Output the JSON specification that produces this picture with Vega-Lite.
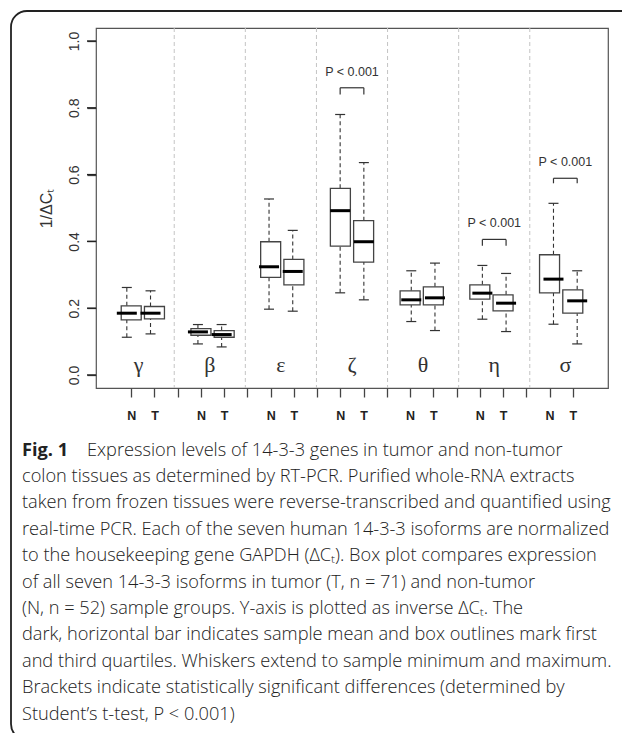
{
  "$schema": "https://vega.github.io/schema/vega-lite/v6.json",
  "width": 512,
  "height": 360,
  "autosize": {"type": "none"},
  "padding": {"left": 96, "top": 28, "right": 14, "bottom": 345},
  "background": "white",
  "config": {"view": {"stroke": "#555", "strokeWidth": 1.2}, "font": "Liberation Sans"},
  "datasets": {
    "boxes": [
      {"iso": "γ", "group": "N", "pos": 1, "min": 0.113, "q1": 0.165, "median": 0.185, "q3": 0.207, "max": 0.262},
      {"iso": "γ", "group": "T", "pos": 2, "min": 0.123, "q1": 0.168, "median": 0.185, "q3": 0.205, "max": 0.252},
      {"iso": "β", "group": "N", "pos": 4, "min": 0.093, "q1": 0.119, "median": 0.129, "q3": 0.139, "max": 0.151},
      {"iso": "β", "group": "T", "pos": 5, "min": 0.084, "q1": 0.113, "median": 0.121, "q3": 0.133, "max": 0.151},
      {"iso": "ε", "group": "N", "pos": 7, "min": 0.197, "q1": 0.292, "median": 0.324, "q3": 0.399, "max": 0.527},
      {"iso": "ε", "group": "T", "pos": 8, "min": 0.191, "q1": 0.270, "median": 0.310, "q3": 0.346, "max": 0.433},
      {"iso": "ζ", "group": "N", "pos": 10, "min": 0.246, "q1": 0.386, "median": 0.492, "q3": 0.559, "max": 0.780},
      {"iso": "ζ", "group": "T", "pos": 11, "min": 0.225, "q1": 0.338, "median": 0.399, "q3": 0.462, "max": 0.636},
      {"iso": "θ", "group": "N", "pos": 13, "min": 0.160, "q1": 0.210, "median": 0.225, "q3": 0.252, "max": 0.312},
      {"iso": "θ", "group": "T", "pos": 14, "min": 0.133, "q1": 0.210, "median": 0.231, "q3": 0.264, "max": 0.335},
      {"iso": "η", "group": "N", "pos": 16, "min": 0.167, "q1": 0.227, "median": 0.245, "q3": 0.270, "max": 0.328},
      {"iso": "η", "group": "T", "pos": 17, "min": 0.130, "q1": 0.192, "median": 0.215, "q3": 0.240, "max": 0.304},
      {"iso": "σ", "group": "N", "pos": 19, "min": 0.152, "q1": 0.246, "median": 0.287, "q3": 0.360, "max": 0.514},
      {"iso": "σ", "group": "T", "pos": 20, "min": 0.093, "q1": 0.185, "median": 0.222, "q3": 0.255, "max": 0.312}
    ],
    "seps": [{"pos": 3}, {"pos": 6}, {"pos": 9}, {"pos": 12}, {"pos": 15}, {"pos": 18}],
    "yticks": [{"v": 0}, {"v": 0.2}, {"v": 0.4}, {"v": 0.6}, {"v": 0.8}, {"v": 1.0}],
    "brackets": [
      {"iso": "ζ", "npos": 10, "tpos": 11, "mid": 10.5, "top": 0.860, "leg": 0.840, "ptext": 0.908, "label": "P < 0.001"},
      {"iso": "η", "npos": 16, "tpos": 17, "mid": 16.5, "top": 0.406, "leg": 0.387, "ptext": 0.456, "label": "P < 0.001"},
      {"iso": "σ", "npos": 19, "tpos": 20, "mid": 19.5, "top": 0.589, "leg": 0.574, "ptext": 0.639, "label": "P < 0.001"}
    ],
    "greek": [
      {"iso": "γ", "mid": 1.5}, {"iso": "β", "mid": 4.5}, {"iso": "ε", "mid": 7.5}, {"iso": "ζ", "mid": 10.5},
      {"iso": "θ", "mid": 13.5}, {"iso": "η", "mid": 16.5}, {"iso": "σ", "mid": 19.5}
    ],
    "caption": [
      {"line": 0, "part": "bold", "text": "Fig. 1"},
      {"line": 0, "part": "lead", "text": "Expression levels of 14-3-3 genes in tumor and non-tumor"},
      {"line": 1, "part": "body", "text": "colon tissues as determined by RT-PCR. Purified whole-RNA extracts"},
      {"line": 2, "part": "body", "text": "taken from frozen tissues were reverse-transcribed and quantified using"},
      {"line": 3, "part": "body", "text": "real-time PCR. Each of the seven human 14-3-3 isoforms are normalized"},
      {"line": 4, "part": "body", "text": "to the housekeeping gene GAPDH (ΔCₜ). Box plot compares expression"},
      {"line": 5, "part": "body", "text": "of all seven 14-3-3 isoforms in tumor (T, n = 71) and non-tumor"},
      {"line": 6, "part": "body", "text": "(N, n = 52) sample groups. Y-axis is plotted as inverse ΔCₜ. The"},
      {"line": 7, "part": "body", "text": "dark, horizontal bar indicates sample mean and box outlines mark first"},
      {"line": 8, "part": "body", "text": "and third quartiles. Whiskers extend to sample minimum and maximum."},
      {"line": 9, "part": "body", "text": "Brackets indicate statistically significant differences (determined by"},
      {"line": 10, "part": "body", "text": "Student’s t-test, P < 0.001)"}
    ],
    "frame": [{"x": 0, "x2": 1, "y": 0, "y2": 1}]
  },
  "layer": [
    {
      "data": {"name": "seps"},
      "mark": {"type": "rule", "color": "#c4c4c4", "strokeDash": [4, 3], "strokeWidth": 1},
      "encoding": {
        "x": {"field": "pos", "type": "quantitative", "scale": {"domain": [-0.3, 21.3], "nice": false, "zero": false}, "axis": null}
      }
    },
    {
      "data": {"name": "boxes"},
      "mark": {"type": "rule", "color": "#333", "strokeDash": [4, 3], "strokeWidth": 1.1},
      "encoding": {
        "x": {"field": "pos", "type": "quantitative", "scale": {"domain": [-0.3, 21.3], "nice": false, "zero": false}, "axis": null},
        "y": {"field": "q3", "type": "quantitative", "scale": {"domain": [-0.039, 1.039], "nice": false, "zero": false}, "axis": null},
        "y2": {"field": "max"}
      }
    },
    {
      "data": {"name": "boxes"},
      "mark": {"type": "rule", "color": "#333", "strokeDash": [4, 3], "strokeWidth": 1.1},
      "encoding": {
        "x": {"field": "pos", "type": "quantitative", "scale": {"domain": [-0.3, 21.3], "nice": false, "zero": false}, "axis": null},
        "y": {"field": "min", "type": "quantitative", "scale": {"domain": [-0.039, 1.039], "nice": false, "zero": false}, "axis": null},
        "y2": {"field": "q1"}
      }
    },
    {
      "data": {"name": "boxes"},
      "mark": {"type": "tick", "orient": "horizontal", "size": 10, "thickness": 1.2, "color": "#333", "opacity": 1},
      "encoding": {
        "x": {"field": "pos", "type": "quantitative", "scale": {"domain": [-0.3, 21.3], "nice": false, "zero": false}, "axis": null},
        "y": {"field": "max", "type": "quantitative", "scale": {"domain": [-0.039, 1.039], "nice": false, "zero": false}, "axis": null}
      }
    },
    {
      "data": {"name": "boxes"},
      "mark": {"type": "tick", "orient": "horizontal", "size": 10, "thickness": 1.2, "color": "#333", "opacity": 1},
      "encoding": {
        "x": {"field": "pos", "type": "quantitative", "scale": {"domain": [-0.3, 21.3], "nice": false, "zero": false}, "axis": null},
        "y": {"field": "min", "type": "quantitative", "scale": {"domain": [-0.039, 1.039], "nice": false, "zero": false}, "axis": null}
      }
    },
    {
      "data": {"name": "boxes"},
      "mark": {"type": "bar", "width": 20, "fill": "white", "stroke": "#444", "strokeWidth": 1.3},
      "encoding": {
        "x": {
          "field": "pos", "type": "quantitative",
          "scale": {"domain": [-0.3, 21.3], "nice": false, "zero": false},
          "axis": {
            "values": [1, 2, 3, 4, 5, 6, 7, 8, 9, 10, 11, 12, 13, 14, 15, 16, 17, 18, 19, 20],
            "labelExpr": "datum.value % 3 == 1 ? 'N' : (datum.value % 3 == 2 ? 'T' : '')",
            "title": null, "grid": false, "domain": false, "orient": "bottom",
            "tickSize": 9, "tickColor": "#444", "tickWidth": 1.3,
            "labelFont": "Liberation Sans", "labelFontWeight": "bold", "labelFontSize": 12.5,
            "labelColor": "#222", "labelPadding": 12, "labelOverlap": false, "labelFlush": false
          }
        },
        "y": {
          "field": "q1", "type": "quantitative",
          "scale": {"domain": [-0.039, 1.039], "nice": false, "zero": false},
          "axis": {
            "values": [0, 0.2, 0.4, 0.6, 0.8, 1.0], "format": ".1f", "orient": "left",
            "title": "1/ΔCₜ", "grid": false, "domain": false,
            "tickSize": 9, "tickColor": "#444", "tickWidth": 1.3,
            "labelAngle": -90, "labelAlign": "center", "labelBaseline": "bottom", "labelPadding": 6,
            "labelFont": "Liberation Sans", "labelFontSize": 14, "labelColor": "#333",
            "titleFont": "Liberation Sans", "titleFontSize": 16, "titleFontWeight": "normal",
            "titleColor": "#333", "titlePadding": 13
          }
        },
        "y2": {"field": "q3"}
      }
    },
    {
      "data": {"name": "boxes"},
      "mark": {"type": "tick", "orient": "horizontal", "size": 20, "thickness": 3, "color": "#000", "opacity": 1},
      "encoding": {
        "x": {"field": "pos", "type": "quantitative", "scale": {"domain": [-0.3, 21.3], "nice": false, "zero": false}, "axis": null},
        "y": {"field": "median", "type": "quantitative", "scale": {"domain": [-0.039, 1.039], "nice": false, "zero": false}, "axis": null}
      }
    },
    {
      "data": {"name": "brackets"},
      "mark": {"type": "rule", "color": "#333", "strokeWidth": 1.2},
      "encoding": {
        "x": {"field": "npos", "type": "quantitative", "scale": {"domain": [-0.3, 21.3], "nice": false, "zero": false}, "axis": null},
        "x2": {"field": "tpos"},
        "y": {"field": "top", "type": "quantitative", "scale": {"domain": [-0.039, 1.039], "nice": false, "zero": false}, "axis": null}
      }
    },
    {
      "data": {"name": "brackets"},
      "mark": {"type": "rule", "color": "#333", "strokeWidth": 1.2},
      "encoding": {
        "x": {"field": "npos", "type": "quantitative", "scale": {"domain": [-0.3, 21.3], "nice": false, "zero": false}, "axis": null},
        "y": {"field": "leg", "type": "quantitative", "scale": {"domain": [-0.039, 1.039], "nice": false, "zero": false}, "axis": null},
        "y2": {"field": "top"}
      }
    },
    {
      "data": {"name": "brackets"},
      "mark": {"type": "rule", "color": "#333", "strokeWidth": 1.2},
      "encoding": {
        "x": {"field": "tpos", "type": "quantitative", "scale": {"domain": [-0.3, 21.3], "nice": false, "zero": false}, "axis": null},
        "y": {"field": "leg", "type": "quantitative", "scale": {"domain": [-0.039, 1.039], "nice": false, "zero": false}, "axis": null},
        "y2": {"field": "top"}
      }
    },
    {
      "data": {"name": "brackets"},
      "mark": {"type": "text", "font": "Liberation Sans", "fontSize": 12.5, "color": "#333", "align": "center", "baseline": "middle"},
      "encoding": {
        "x": {"field": "mid", "type": "quantitative", "scale": {"domain": [-0.3, 21.3], "nice": false, "zero": false}, "axis": null},
        "y": {"field": "ptext", "type": "quantitative", "scale": {"domain": [-0.039, 1.039], "nice": false, "zero": false}, "axis": null},
        "text": {"field": "label"}
      }
    },
    {
      "data": {"name": "greek"},
      "mark": {"type": "text", "font": "Liberation Serif", "fontSize": 22, "color": "#333", "align": "center", "baseline": "middle"},
      "encoding": {
        "x": {"field": "mid", "type": "quantitative", "scale": {"domain": [-0.3, 21.3], "nice": false, "zero": false}, "axis": null},
        "y": {"datum": 0.03, "type": "quantitative", "scale": {"domain": [-0.039, 1.039], "nice": false, "zero": false}, "axis": null},
        "text": {"field": "iso"}
      }
    },
    {
      "data": {"name": "caption"},
      "transform": [{"filter": "datum.part == 'body'"}],
      "mark": {"type": "text", "font": "Open Sans", "fontSize": 18.2, "fontWeight": 300, "color": "#222", "align": "left", "baseline": "alphabetic"},
      "encoding": {
        "x": {"datum": 0, "type": "quantitative", "scale": {"domain": [0, 1], "range": [-74, 526], "nice": false, "zero": false}, "axis": null},
        "y": {"field": "line", "type": "quantitative", "scale": {"domain": [0, 10], "range": [427.5, 691.5], "nice": false, "zero": false}, "axis": null},
        "text": {"field": "text"}
      }
    },
    {
      "data": {"name": "caption"},
      "transform": [{"filter": "datum.part == 'bold'"}],
      "mark": {"type": "text", "font": "Open Sans", "fontSize": 18.2, "fontWeight": "bold", "color": "#222", "align": "left", "baseline": "alphabetic"},
      "encoding": {
        "x": {"datum": 0, "type": "quantitative", "scale": {"domain": [0, 1], "range": [-74, 526], "nice": false, "zero": false}, "axis": null},
        "y": {"field": "line", "type": "quantitative", "scale": {"domain": [0, 10], "range": [427.5, 691.5], "nice": false, "zero": false}, "axis": null},
        "text": {"field": "text"}
      }
    },
    {
      "data": {"name": "caption"},
      "transform": [{"filter": "datum.part == 'lead'"}],
      "mark": {"type": "text", "font": "Open Sans", "fontSize": 18.2, "fontWeight": 300, "color": "#222", "align": "left", "baseline": "alphabetic", "dx": 65},
      "encoding": {
        "x": {"datum": 0, "type": "quantitative", "scale": {"domain": [0, 1], "range": [-74, 526], "nice": false, "zero": false}, "axis": null},
        "y": {"field": "line", "type": "quantitative", "scale": {"domain": [0, 10], "range": [427.5, 691.5], "nice": false, "zero": false}, "axis": null},
        "text": {"field": "text"}
      }
    },
    {
      "data": {"name": "frame"},
      "mark": {"type": "rect", "fill": null, "fillOpacity": 0, "stroke": "#222", "strokeWidth": 1.8, "cornerRadius": 16},
      "encoding": {
        "x": {"field": "x", "type": "quantitative", "scale": {"domain": [0, 1], "range": [-85, 544], "nice": false, "zero": false}, "axis": null},
        "x2": {"field": "x2"},
        "y": {"field": "y", "type": "quantitative", "scale": {"domain": [0, 1], "range": [-17, 712], "nice": false, "zero": false}, "axis": null},
        "y2": {"field": "y2"}
      }
    },
    {
      "data": {"name": "yticks"},
      "mark": {"type": "tick", "orient": "horizontal", "size": 9, "thickness": 1.4, "color": "#222", "opacity": 1, "clip": false},
      "encoding": {
        "x": {"datum": -0.49, "type": "quantitative", "scale": {"domain": [-0.3, 21.3], "nice": false, "zero": false}, "axis": null},
        "y": {"field": "v", "type": "quantitative", "scale": {"domain": [-0.039, 1.039], "nice": false, "zero": false}, "axis": null}
      }
    }
  ],
  "resolve": {"scale": {"x": "independent", "y": "independent"}}
}
